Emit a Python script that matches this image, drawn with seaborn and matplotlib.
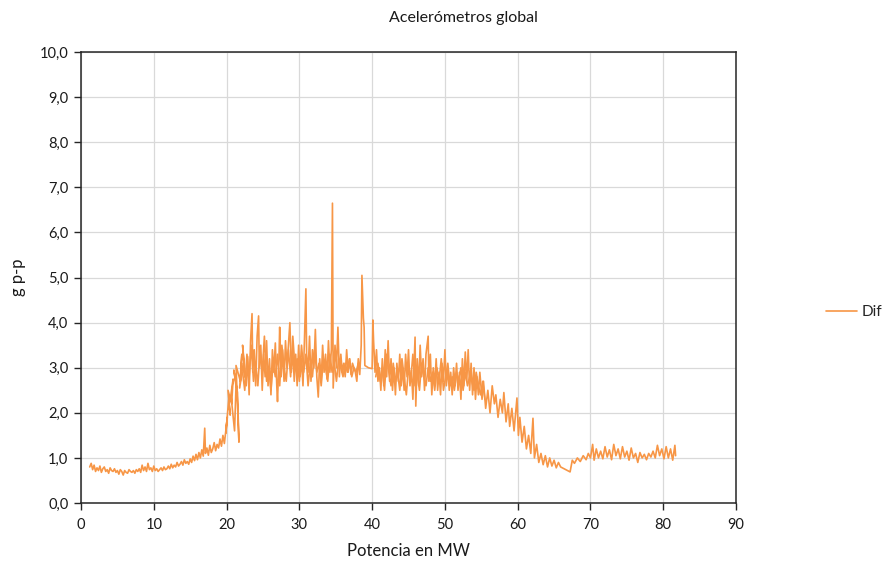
import numpy as np
import pandas as pd
import matplotlib
matplotlib.use("Agg")
import matplotlib.pyplot as plt
import seaborn as sns
from matplotlib.ticker import FuncFormatter, MultipleLocator

# power (MW) and global accelerometer reading (g p-p) in trace order
potencia = [
    1.2, 1.4, 1.6, 1.8, 2.0, 2.2, 2.4, 2.6, 2.8, 3.0, 3.2, 3.4, 3.6, 3.8, 4.0, 4.2, 4.4,
    4.6, 4.8, 5.0, 5.2, 5.4, 5.6, 5.8, 6.0, 6.2, 6.4, 6.6, 6.8, 7.0, 7.2, 7.4, 7.6, 7.8,
    8.0, 8.2, 8.4, 8.6, 8.8, 9.0, 9.2, 9.4, 9.6, 9.8, 10.0, 10.2, 10.4, 10.6, 10.8, 11.0,
    11.2, 11.4, 11.6, 11.8, 12.0, 12.2, 12.4, 12.6, 12.8, 13.0, 13.2, 13.4, 13.6, 13.8,
    14.0, 14.2, 14.4, 14.6, 14.8,
    15.0, 15.2, 15.4, 15.6, 15.8, 16.0, 16.2, 16.4, 16.6, 16.8, 17.0, 17.1, 17.3, 17.5,
    17.7, 17.9, 18.1, 18.3, 18.5, 18.7, 18.9, 19.1, 19.3, 19.5, 19.7, 19.9,
    20.1, 19.9, 20.3, 20.5, 20.2, 20.7, 20.9, 20.6, 21.1, 21.3, 21.0, 21.5, 21.7, 21.3,
    21.9, 22.1, 21.8, 22.3, 22.5, 22.2, 22.7, 22.9,
    23.1, 23.3, 23.5, 23.6, 23.8, 24.0, 24.2, 24.4, 24.5, 24.7, 24.9, 25.1, 25.3, 25.5,
    25.7, 25.9, 26.1, 26.3, 26.5, 26.7, 26.9, 27.0, 27.2, 27.3, 27.5, 27.7, 27.9, 28.1,
    28.3, 28.5, 28.7, 28.9, 29.1, 29.3, 29.5, 29.7, 29.9, 30.1, 30.3, 30.5, 30.7, 30.9,
    31.0, 31.2, 31.4, 31.6, 31.8, 32.0, 32.2, 32.4, 32.6, 32.8, 33.0, 33.2, 33.4, 33.6,
    33.8, 34.0, 34.2, 34.4, 34.55, 34.65, 34.9, 35.1, 35.3, 35.5, 35.7, 35.9, 36.1, 36.3,
    36.5, 36.7, 36.9, 37.1, 37.3, 37.5, 37.7, 37.9, 38.1, 38.3, 38.5, 38.6, 38.8, 38.9,
    39.0, 39.5, 40.0, 40.1, 40.2, 40.4, 40.6, 40.8, 41.0,
    41.2, 41.4, 41.6, 41.8, 42.0, 42.2, 42.4, 42.6, 42.8, 43.0, 43.2, 43.4, 43.6, 43.8,
    44.0, 44.2, 44.4, 44.6, 44.8, 45.0, 45.2, 45.4, 45.6, 45.9, 46.0, 46.2, 46.4, 46.6,
    46.8, 47.0, 47.2, 47.4, 47.7, 47.8, 48.0, 48.2, 48.4, 48.6, 48.8, 49.0, 49.2, 49.4,
    49.6, 49.8, 50.0, 50.2, 50.4, 50.6, 50.8, 51.0, 51.2, 51.4, 51.6, 51.8, 52.0, 52.2,
    52.4, 52.6, 52.8, 53.0, 53.2, 53.4, 53.6, 53.8, 54.0, 54.2, 54.4, 54.6,
    54.8, 55.1, 55.3, 55.6, 55.9, 56.2, 56.5, 56.8, 57.0, 57.3, 57.6, 57.9, 58.1, 58.4,
    58.7, 58.9, 59.2, 59.5, 59.9, 60.1, 60.3, 60.6, 60.9, 61.2, 61.5, 61.8, 62.1, 62.3,
    62.6, 62.9, 63.2, 63.5, 63.8, 64.1, 64.4, 64.7, 65.0, 65.3, 65.6, 65.9, 67.2, 67.5,
    67.8, 68.2, 68.6, 69.0, 69.4, 69.7,
    70.0, 70.3, 70.5, 70.8, 71.1, 71.4, 71.7, 72.0, 72.3, 72.6, 72.9, 73.2, 73.5, 73.8,
    74.1, 74.4, 74.7, 75.0, 75.3, 75.6, 75.9, 76.2, 76.5, 76.8, 77.1, 77.4, 77.7, 78.0,
    78.3, 78.6, 78.9, 79.2, 79.5, 79.8, 80.1, 80.4, 80.7, 81.0, 81.3, 81.6, 81.7,
]

dif = [
    0.80, 0.88, 0.74, 0.84, 0.70, 0.78, 0.72, 0.82, 0.68, 0.76, 0.80, 0.70, 0.74, 0.66, 0.78, 0.72, 0.70,
    0.76, 0.68, 0.72, 0.64, 0.74, 0.70, 0.62, 0.72, 0.68, 0.66, 0.74, 0.70, 0.68, 0.72, 0.66, 0.74, 0.70,
    0.76, 0.68, 0.84, 0.72, 0.80, 0.70, 0.88, 0.74, 0.78, 0.70, 0.82, 0.72, 0.76, 0.70, 0.74, 0.78,
    0.72, 0.80, 0.74, 0.76, 0.82, 0.76, 0.86, 0.78, 0.84, 0.80, 0.90, 0.82, 0.86, 0.92,
    0.84, 0.96, 0.88, 0.92, 0.86,
    0.98, 0.90, 1.04, 0.94, 1.08, 0.96, 1.12, 1.00, 1.18, 1.04, 1.66, 1.10, 1.22, 1.06,
    1.28, 1.12, 1.20, 1.34, 1.16, 1.30, 1.22, 1.42, 1.26, 1.50, 1.32, 1.62,
    1.90, 1.55, 2.30, 1.95, 2.50, 2.20, 2.75, 2.40, 1.60, 2.60, 2.95, 2.45, 1.35, 3.05,
    2.70, 3.30, 2.55, 3.10, 2.80, 3.50, 2.60, 3.25,
    2.40, 3.60, 4.20, 2.90, 3.40, 2.60, 3.70, 4.15, 3.00, 3.50, 2.50, 3.30, 2.80, 3.60,
    2.60, 3.20, 2.40, 3.40, 2.90, 3.55, 2.60, 2.25, 3.20, 3.90, 2.80, 3.40, 2.70, 3.60,
    3.00, 3.50, 4.00, 2.90, 3.40, 2.70, 3.30, 2.60, 3.50, 2.80, 3.20, 2.60, 3.60, 4.75,
    3.30, 2.90, 3.70, 2.70, 3.40, 3.00, 3.85, 2.80, 2.35, 3.20, 2.70, 3.50, 2.90, 3.30,
    2.75, 3.60, 2.90, 3.40, 6.65, 2.55, 3.50, 3.00, 3.90, 2.80, 3.30, 2.90, 3.10, 2.80,
    3.40, 2.90, 3.20, 2.85, 3.10, 3.00, 2.90, 2.70, 3.20, 2.85, 3.50, 5.05, 4.10, 3.90,
    3.05, 3.00, 2.98, 4.06, 3.60, 2.90, 3.40, 2.70, 3.00,
    2.50, 3.20, 2.60, 3.40, 2.80, 3.60, 2.70, 3.20, 2.50, 3.00, 2.40, 3.10, 2.70, 3.30,
    2.60, 3.00, 2.50, 3.30, 2.80, 3.40, 2.60, 2.95, 2.30, 3.68, 2.15, 3.20, 2.60, 3.50,
    2.80, 3.20, 2.50, 3.30, 3.70, 2.70, 3.30, 2.40, 3.00, 2.60, 3.20, 2.50, 2.90, 2.40,
    3.10, 2.70, 3.40, 2.60, 3.00, 2.50, 2.90, 2.40, 3.00, 2.60, 3.10, 2.50, 2.90, 2.30,
    3.20, 2.60, 3.35, 2.70, 3.40, 2.50, 3.10, 2.40, 3.00, 2.30, 2.80, 2.40,
    2.90, 2.30, 2.70, 2.10, 2.50, 2.00, 2.60, 2.20, 2.40, 1.90, 2.30, 2.00, 2.45, 1.80,
    2.20, 1.70, 2.10, 1.60, 2.33, 1.50, 1.90, 1.35, 1.70, 1.20, 1.50, 1.10, 1.88, 1.00,
    1.30, 0.90, 1.10, 0.85, 1.05, 0.80, 1.00, 0.82, 0.95, 0.78, 0.90, 0.80, 0.69, 0.95,
    0.88, 1.00, 0.92, 1.05, 0.96, 1.10,
    1.00, 1.30, 0.95, 1.20, 1.00, 1.15, 0.98, 1.25, 1.02, 1.18, 0.96, 1.30, 1.05, 1.20,
    0.98, 1.25, 1.02, 1.15, 0.95, 1.22, 1.00, 1.10, 0.90, 1.12, 1.00, 1.08, 0.96, 1.10,
    1.02, 1.15, 1.00, 1.28, 1.05, 1.20, 0.98, 1.25, 1.00, 1.20, 0.95, 1.28, 1.05,
]

# second pass through the dense plateau (the trace crosses this region again)
potencia_b1 = [
    22.2, 22.5, 22.8, 23.1, 23.4, 23.7, 24.0, 24.3, 24.6, 24.9, 25.2, 25.5, 25.8, 26.1,
    26.4, 26.7, 27.0, 27.3, 27.6, 27.9, 28.2, 28.5, 28.8, 29.1, 29.4, 29.7, 30.0, 30.3,
    30.6, 30.9, 31.2, 31.5, 31.8, 32.1, 32.4, 32.7, 33.0, 33.3, 33.6, 33.9, 34.2, 34.5,
    34.8, 35.1, 35.4, 35.7, 36.0, 36.3, 36.6, 36.9, 37.2, 37.5, 37.8, 38.1,
]
dif_b1 = [
    2.9, 2.5, 3.3, 2.8, 3.5, 2.7, 3.1, 2.6, 3.4, 2.9, 3.7, 2.7, 3.0, 2.5,
    3.1, 2.8, 3.3, 2.6, 3.5, 3.0, 2.7, 3.4, 2.8, 3.7, 3.0, 3.2, 2.7, 3.5,
    2.9, 3.3, 2.6, 3.1, 2.8, 3.4, 2.9, 3.1, 2.6, 3.2, 3.0, 2.7, 3.3, 2.9,
    3.1, 2.7, 3.2, 3.0, 2.8, 3.1, 2.9, 3.2, 2.8, 3.0, 2.9, 3.1,
]
potencia_b2 = [
    40.5, 40.8, 41.1, 41.4, 41.7, 42.0, 42.3, 42.6, 42.9, 43.2, 43.5, 43.8, 44.1, 44.4,
    44.7, 45.0, 45.3, 45.6, 45.9, 46.2, 46.5, 46.8, 47.1, 47.4, 47.7, 48.0, 48.3, 48.6,
    48.9, 49.2, 49.5, 49.8, 50.1, 50.4, 50.7, 51.0, 51.3, 51.6, 51.9, 52.2, 52.5, 52.8,
    53.1, 53.4, 53.7, 54.0, 54.3, 54.6, 54.9, 55.2, 55.5,
]
dif_b2 = [
    2.8, 3.1, 2.7, 3.0, 2.5, 3.3, 2.9, 2.6, 3.1, 2.7, 2.9, 2.5, 3.2, 2.8,
    2.4, 3.0, 2.7, 3.3, 2.6, 2.9, 2.5, 3.1, 2.8, 2.6, 3.0, 2.7, 2.9, 2.5,
    3.0, 2.7, 3.2, 2.5, 2.8, 3.1, 2.6, 2.8, 2.5, 2.9, 2.7, 3.0, 2.5, 2.9,
    2.6, 2.8, 2.7, 2.5, 2.9, 2.6, 2.4, 2.7, 2.3,
]

df = pd.DataFrame({"Potencia": potencia, "Dif": dif})
df_extra = pd.concat([
    pd.DataFrame({"Potencia": potencia_b1, "Dif": dif_b1, "tramo": 1}),
    pd.DataFrame({"Potencia": potencia_b2, "Dif": dif_b2, "tramo": 2}),
], ignore_index=True)

sns.set_style("white")
plt.rcParams["font.family"] = ["Lato", "DejaVu Sans"]

naranja = "#F79646"

fig = plt.figure(figsize=(8.94, 5.65), dpi=100)
ax = fig.add_axes([0.0906, 0.1097, 0.7327, 0.798])

sns.lineplot(data=df_extra, x="Potencia", y="Dif", units="tramo", sort=False, estimator=None,
             color=naranja, linewidth=1.2, legend=False, ax=ax)
sns.lineplot(data=df, x="Potencia", y="Dif", sort=False, estimator=None,
             color=naranja, linewidth=1.2, label="Dif", ax=ax)

ax.set_xlim(0, 90)
ax.set_ylim(0, 10)
ax.xaxis.set_major_locator(MultipleLocator(10))
ax.yaxis.set_major_locator(MultipleLocator(1))
ax.yaxis.set_major_formatter(FuncFormatter(lambda v, p: f"{v:.1f}".replace(".", ",")))
ax.grid(True, color="#D9D9D9", linewidth=0.9)
ax.set_axisbelow(True)
for s in ax.spines.values():
    s.set_color("#262626")
    s.set_linewidth(1.1)
ax.tick_params(axis="both", direction="out", length=5, width=1, color="#262626",
               labelsize=10.5, labelcolor="#1a1a1a", bottom=True, left=True, pad=4)
ax.tick_params(axis="x", pad=6)

ax.set_xlabel("Potencia en MW", fontsize=12, color="#1a1a1a", labelpad=8)
ax.set_ylabel("g p-p", fontsize=12, color="#1a1a1a", labelpad=10)
fig.text(0.518, 0.968, "Acelerómetros global", ha="center", va="center",
         fontsize=11.5, color="#1a1a1a")

ax.legend(loc="center left", bbox_to_anchor=(0.909, 0.448), bbox_transform=fig.transFigure,
          frameon=False, fontsize=11, handlelength=2.0, handletextpad=0.3)

fig.savefig("out.png", dpi=100)
